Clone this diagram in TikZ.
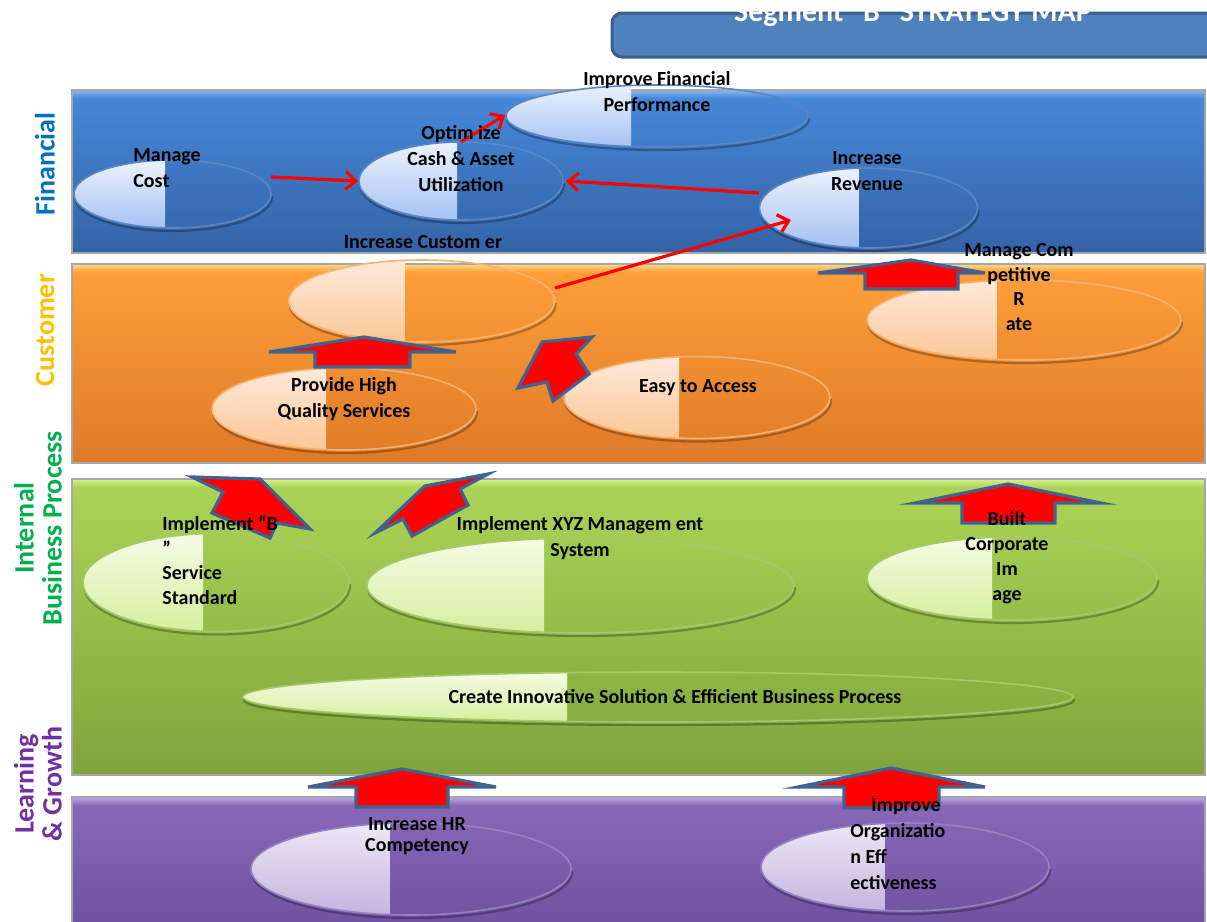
\documentclass[tikz,border=0pt]{standalone}
\usepackage{fontspec}
\setmainfont{Carlito}
\usetikzlibrary{arrows.meta,shapes.geometric}
% ellipse half-fill colours
\definecolor{bTop}{HTML}{EEF3FD}\definecolor{bBot}{HTML}{A3C1F2}\definecolor{bLine}{HTML}{5A86C5}
\definecolor{oTop}{HTML}{FEEADB}\definecolor{oBot}{HTML}{FBC695}\definecolor{oLine}{HTML}{F6B273}
\definecolor{gTop}{HTML}{F6FCE6}\definecolor{gBot}{HTML}{D4EF9E}\definecolor{gLine}{HTML}{A6C76A}
\definecolor{pTop}{HTML}{EEE9F5}\definecolor{pBot}{HTML}{C4B3DE}\definecolor{pLine}{HTML}{9681C2}
% band colours
\definecolor{bandbTop}{HTML}{4689DA}\definecolor{bandbBot}{HTML}{3463A6}\definecolor{bandbHi}{HTML}{8AB8F0}
\definecolor{bandoTop}{HTML}{FFA03A}\definecolor{bandoBot}{HTML}{DF7A27}\definecolor{bandoHi}{HTML}{FFD98A}
\definecolor{bandgTop}{HTML}{ABD556}\definecolor{bandgBot}{HTML}{80A43C}\definecolor{bandgHi}{HTML}{D6F090}
\definecolor{bandpTop}{HTML}{8A69BA}\definecolor{bandpBot}{HTML}{6E509F}\definecolor{bandpHi}{HTML}{BFA5EA}
% labels / misc
\definecolor{finC}{HTML}{0070C0}\definecolor{cusC}{HTML}{FFC000}
\definecolor{ibpC}{HTML}{00B050}\definecolor{lgC}{HTML}{7030A0}
\definecolor{titleFill}{HTML}{4F81BD}\definecolor{titleLine}{HTML}{3A5F8E}
\definecolor{blockLine}{HTML}{41618F}

\tikzset{
  shadowline/.style={draw=black, opacity=0.28, line width=1.1pt},
  bandedge/.style={draw=black!35, line width=0.7pt},
  lbl/.style={font=\bfseries\fontsize{10}{13}\selectfont, text=black, align=center, inner sep=0pt},
  sidelbl/.style={rotate=90, font=\bfseries\fontsize{14}{14}\selectfont, align=center, inner sep=0pt},
  redarrow/.style={draw=red, line width=1.6pt, -{Straight Barb[length=5pt,width=9pt]}},
  blockarrow/.style={fill=red, draw=blockLine, line width=1.6pt, line join=miter},
}

% name, cx, cy, rx, ry, split-x, theme
\newcommand\hellipse[7]{%
  \begin{scope}
    \clip (#2-#4-6,#3+2) rectangle (#2+#4+6,#3+#5+10);
    \draw[shadowline] (#2+1,#3+3) ellipse [x radius=#4*0.5pt, y radius=#5*0.5pt];
  \end{scope}
  \begin{scope}
    \clip (#2,#3) ellipse [x radius=#4*0.5pt, y radius=#5*0.5pt];
    \shade[top color=#7Top, bottom color=#7Bot] (#2-#4-2,#3-#5-2) rectangle (#6,#3+#5+2);
  \end{scope}
  \draw[#7Line, line width=0.8pt] (#2,#3) ellipse [x radius=#4*0.5pt, y radius=#5*0.5pt];
  \node[ellipse, inner sep=0pt, minimum width=#4pt, minimum height=#5pt] (#1) at (#2,#3) {};
}
% y1, y2, theme
\newcommand\band[3]{%
  \shade[top color=band#3Top, bottom color=band#3Bot] (72,#1) rectangle (1205,#2);
  \shade[top color=band#3Hi, bottom color=band#3Top] (72,#1) rectangle (1205,#1+8);
  \draw[bandedge] (72,#1) rectangle (1205,#2);
}

\begin{document}
\begin{tikzpicture}[x=0.5pt,y=-0.5pt]
\useasboundingbox (0,0) rectangle (1207,922);
\fill[white] (0,0) rectangle (1207,922);

% title
\draw[fill=titleFill, draw=titleLine, line width=1.5pt, rounded corners=5pt] (612,13) rectangle (1240,57);
\node[font=\bfseries\fontsize{15}{16}\selectfont, text=white, anchor=base, inner sep=0pt] (title) at (913,21) {Segment “B” STRATEGY MAP};

% bands
\band{90}{253}{b}
\band{264}{463}{o}
\band{479}{775}{g}
\band{797}{935}{p}

% side labels
\node[sidelbl, text=finC] (lF) at (45,164) {Financial};
\node[sidelbl, text=cusC] (lC) at (45,330) {Customer};
\node[sidelbl, text=ibpC] (lI) at (38,528) {Internal\\Business Process};
\node[sidelbl, text=lgC] (lL) at (38,784) {Learning\\\& Growth};

% objectives
\hellipse{ifp}{657}{116}{151}{31}{631}{b}
\hellipse{mc}{172.5}{194}{98.5}{34}{165}{b}
\hellipse{opt}{461}{181}{102}{39}{457}{b}
\hellipse{rev}{868.5}{208}{109}{40}{858.6}{b}
\hellipse{ic}{421.6}{301}{133}{41}{404.6}{o}
\hellipse{phq}{344}{409}{132}{41}{326}{o}
\hellipse{ea}{697}{397.5}{133}{41}{679}{o}
\hellipse{mcr}{1024}{320}{157}{40}{996.6}{o}
\hellipse{ib}{216}{582.5}{133}{49}{203}{g}
\hellipse{xyz}{580.5}{585.5}{213.5}{47.5}{544}{g}
\hellipse{bci}{1012}{578.5}{145}{41.5}{992}{g}
\hellipse{cis}{658}{697}{415}{25}{567}{g}
\hellipse{hr}{411}{869}{160}{46}{389.5}{p}
\hellipse{oe}{905}{867}{144}{44}{884.5}{p}

% block arrows
\draw[blockarrow] (269,352) -- (364,337) -- (456,352) -- (410,352) -- (410,367) -- (315,367) -- (315,352) -- cycle;
\draw[blockarrow] (518,388) -- (542,342) -- (592,337) -- (576,354) -- (589,374) -- (553,401) -- (547,382) -- cycle;
\draw[blockarrow] (192,477) -- (260,479) -- (310,529) -- (277,523) -- (270,538) -- (212,513) -- (223,492) -- cycle;
\draw[blockarrow] (488,474) -- (425,486) -- (375,533) -- (403,519) -- (412,536) -- (468,505) -- (460,489) -- cycle;
\draw[blockarrow] (818,273) -- (911,260) -- (985,273) -- (958,273) -- (958,289) -- (865,289) -- (865,273) -- cycle;
\draw[blockarrow] (915,503) -- (1008,484) -- (1101,503) -- (1055,503) -- (1055,523) -- (962,523) -- (962,503) -- cycle;
\draw[blockarrow] (308,787) -- (402,769) -- (496,787) -- (448,787) -- (448,807) -- (356,807) -- (356,787) -- cycle;
\draw[blockarrow] (798,787) -- (891,768) -- (985,787) -- (939,787) -- (939,808) -- (844,808) -- (844,787) -- cycle;

% red connectors
\coordinate (mcOut) at (271,177);
\coordinate (optInL) at (358,181);
\coordinate (revOut) at (759,193);
\coordinate (optInR) at (566,181);
\coordinate (optOut) at (461,142);
\coordinate (ifpIn) at (505,115);
\coordinate (icOut) at (555,288);
\coordinate (revIn) at (791,220);
\draw[redarrow] (mcOut) -- (optInL);
\draw[redarrow] (revOut) -- (optInR);
\draw[redarrow] (optOut) -- (ifpIn);
\draw[redarrow] (icOut) -- (revIn);

% texts
\node[lbl, align=left, anchor=west] (tMC) at (133,168) {Manage\\Cost};
\node[lbl] (tOPT) at (461,159) {Optim ize\\Cash \& Asset\\Utilization};
\node[lbl] (tIFP) at (657,92) {Improve Financial\\Performance};
\node[lbl] (tREV) at (867,171) {Increase\\Revenue};
\node[lbl] (tIC) at (423,242) {Increase Custom er};
\node[lbl] (tPHQ) at (344,399) {Provide High\\Quality Services};
\node[lbl] (tEA) at (698,388) {Easy to Access};
\node[lbl, font=\bfseries\fontsize{10}{12.2}\selectfont] (tMCR) at (1019,287) {Manage Com\\petitive\\R\\ate};
\node[lbl, align=left, anchor=west, font=\bfseries\fontsize{10}{12.3}\selectfont] (tIB) at (162,560) {Implement “B\\”\\Service\\Standard};
\node[lbl] (tXYZ) at (580,538) {Implement XYZ Managem ent\\System};
\node[lbl, font=\bfseries\fontsize{10}{12.5}\selectfont] (tBCI) at (1007,558) {Built\\Corporate\\Im\\age};
\node[lbl] (tCIS) at (675,697) {Create Innovative Solution \& Efficient Business Process};
\node[lbl, font=\bfseries\fontsize{10}{10.5}\selectfont] (tHR) at (417,836) {Increase HR\\Competency};
\node[lbl, align=left, anchor=west, font=\bfseries\fontsize{10}{13}\selectfont] (tOE) at (850,844) {\hspace*{10.5pt}Improve\\Organizatio\\n Eff\\ectiveness};
\end{tikzpicture}
\end{document}
